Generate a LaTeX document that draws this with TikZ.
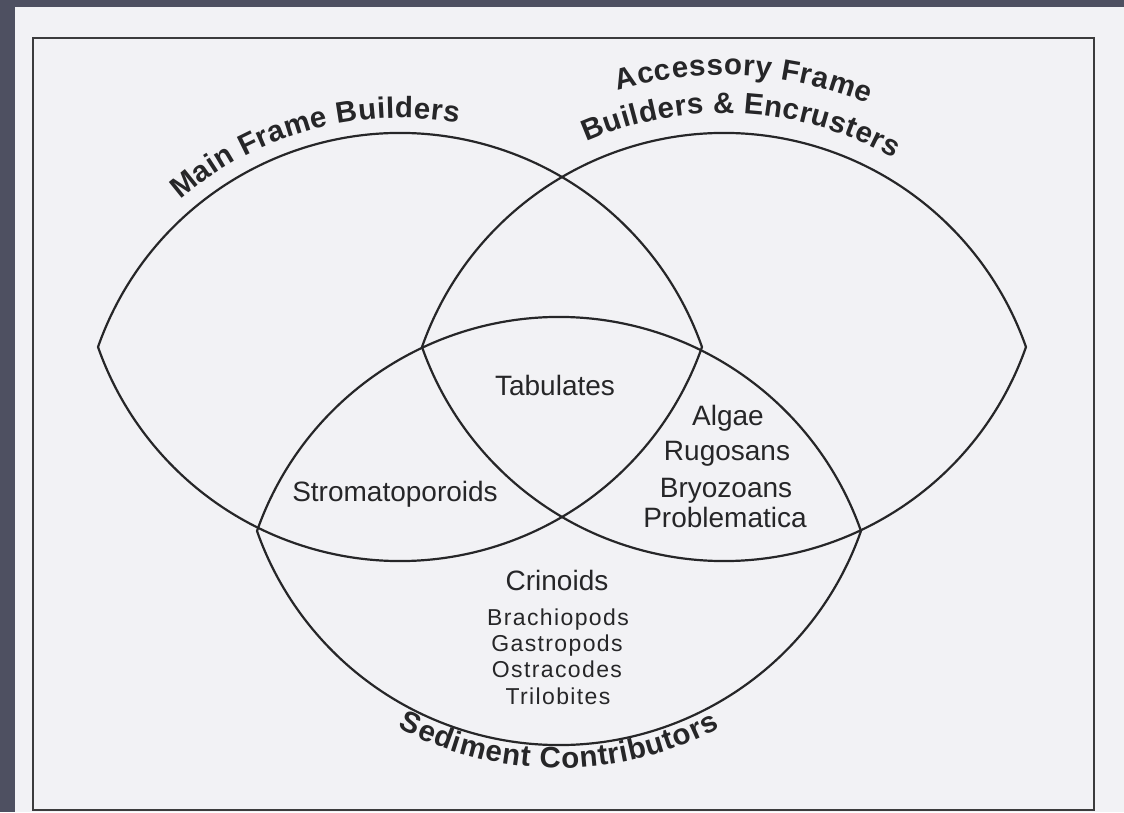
\documentclass[tikz,border=0pt]{standalone}
\usepackage{fontspec}
\setmainfont{Liberation Sans}
\usetikzlibrary{decorations.text}
\definecolor{slate}{RGB}{78,80,97}
\definecolor{paper}{RGB}{242,242,245}
\definecolor{ink}{RGB}{38,38,40}
\newcommand\lblfont{\fontsize{28}{30}\selectfont}
\newcommand\smlfont{\fontsize{23}{25}\selectfont\addfontfeature{LetterSpace=6}}
\newcommand\arcfont{\fontsize{29.5}{31}\selectfont\bfseries}
\begin{document}
\begin{tikzpicture}[x=1pt,y=1pt,
  lensline/.style={draw=ink, line width=2.2pt},
  framebox/.style={draw=ink!90, line width=2.4pt},
  biglabel/.style={anchor=base, text=ink, inner sep=0pt, font=\lblfont},
  smalllabel/.style={anchor=base, text=ink, inner sep=0pt, font=\smlfont},
  arclabel/.style={decorate, decoration={text along path, text align={fit to path}, text color=ink}}
]
\useasboundingbox (0,0) rectangle (1124,812);
\fill[slate] (0,0) rectangle (1124,812);
\fill[paper] (15,0) rectangle (1124,805);
\draw[framebox] (33,2) rectangle (1094,774);

% three lens shapes
\foreach \cx/\cy in {400/465, 724/465, 559/281}{
  \draw[lensline] (\cx-302,\cy) arc[start angle=160.64, end angle=19.36, radius=320.1]
                  arc[start angle=-19.36, end angle=-160.64, radius=320.1] -- cycle;
}

% curved titles
\path[arclabel, decoration={text={|\arcfont|Main Frame Builders}}]
  (400,359) ++(131:335) arc[start angle=131, end angle=80, radius=335];
\path[arclabel, decoration={text={|\arcfont|Accessory Frame}}]
  (724,359) ++(106.3:378) arc[start angle=106.3, end angle=67.6, radius=378];
\path[arclabel, decoration={text={|\arcfont|Builders {\&} Encrusters}}]
  (724,359) ++(113.8:340) arc[start angle=113.8, end angle=60.1, radius=340];
\path[arclabel, decoration={text={|\arcfont|Sediment Contributors}}]
  (559,387) ++(242:343) arc[start angle=242, end angle=298, radius=343];

% region labels
\node[biglabel] (tab) at (555,416) {Tabulates};
\node[biglabel] (alg) at (728,386) {Algae};
\node[biglabel] (rug) at (727,351) {Rugosans};
\node[biglabel] (bry) at (726,315) {Bryozoans};
\node[biglabel] (pro) at (725,284) {Problematica};
\node[biglabel] (str) at (395,311) {Stromatoporoids};
\node[biglabel] (cri) at (557,222) {Crinoids};
\node[smalllabel] (bra) at (558,187) {Brachiopods};
\node[smalllabel] (gas) at (557,161) {Gastropods};
\node[smalllabel] (ost) at (557,135) {Ostracodes};
\node[smalllabel] (tri) at (558,108) {Trilobites};
\end{tikzpicture}
\end{document}
